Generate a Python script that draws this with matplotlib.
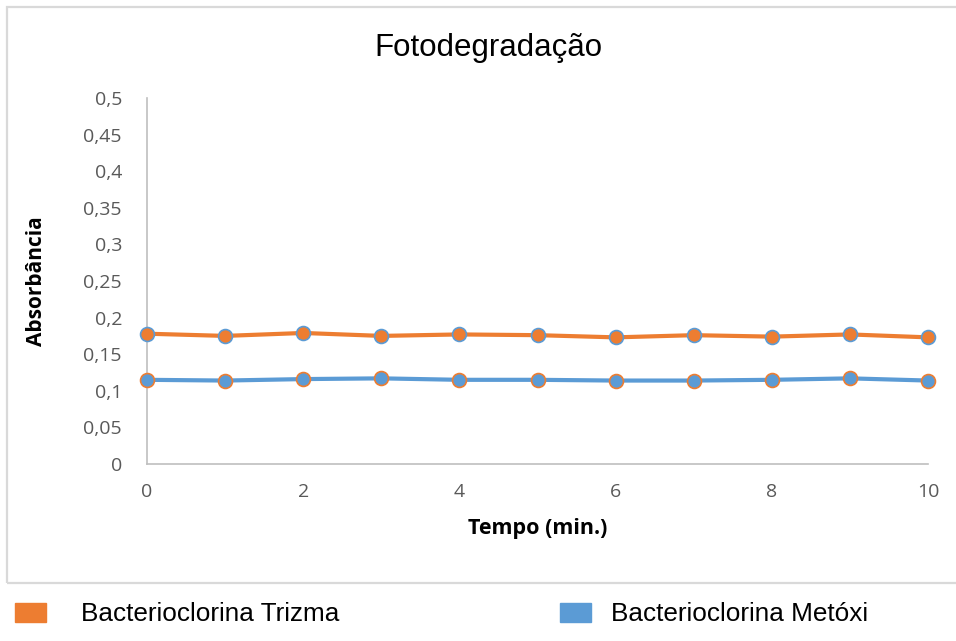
import matplotlib.pyplot as plt
from matplotlib.patches import Rectangle

tempo = [0, 1, 2, 3, 4, 5, 6, 7, 8, 9, 10]
trizma = [0.178, 0.175, 0.179, 0.175, 0.177, 0.176, 0.173, 0.176, 0.174, 0.177, 0.173]
metoxi = [0.115, 0.114, 0.116, 0.117, 0.115, 0.115, 0.114, 0.114, 0.115, 0.117, 0.114]
yticks = [0, 0.05, 0.1, 0.15, 0.2, 0.25, 0.3, 0.35, 0.4, 0.45, 0.5]
xticks = [0, 2, 4, 6, 8, 10]

orange = "#ed7d31"
blue = "#5b9bd5"
grey = "#595959"

fig = plt.figure(figsize=(9.56, 6.41), dpi=100)

# outer chart frame
fig.patches.append(Rectangle((7 / 956, 1 - 583 / 641), 960 / 956, 576 / 641,
                             transform=fig.transFigure, fill=False,
                             edgecolor="#d9d9d9", linewidth=1.6))

ax = fig.add_axes([147 / 956, 1 - 464 / 641, (928 - 147) / 956, (464 - 98) / 641])

ax.plot(tempo, trizma, color=orange, linewidth=3, marker="o", markersize=10,
        markerfacecolor=orange, markeredgecolor=blue, markeredgewidth=1.2,
        zorder=3, clip_on=False)
ax.plot(tempo, metoxi, color=blue, linewidth=3, marker="o", markersize=10,
        markerfacecolor=blue, markeredgecolor=orange, markeredgewidth=1.2,
        zorder=3, clip_on=False)

ax.set_xlim(0, 10)
ax.set_ylim(0, 0.5)
ax.set_xticks(xticks)
ax.set_yticks(yticks)
ax.set_yticklabels([f"{v:g}".replace(".", ",") for v in yticks])
ax.tick_params(length=0, labelsize=14, labelcolor=grey)
ax.tick_params(axis="y", pad=18)
ax.tick_params(axis="x", pad=14)
for lab in ax.get_xticklabels() + ax.get_yticklabels():
    lab.set_family("Open Sans")

for side in ("top", "right"):
    ax.spines[side].set_visible(False)
for side in ("left", "bottom"):
    ax.spines[side].set_color("#bfbfbf")
    ax.spines[side].set_linewidth(1.2)

ax.set_xlabel("Tempo (min.)", fontsize=15.5, fontweight="bold", family="Open Sans", labelpad=12)
ax.set_ylabel("Absorbância", fontsize=15, fontweight="bold", family="Open Sans", labelpad=26)

fig.text(488 / 956, 1 - 48 / 641, "Fotodegradação", ha="center", va="center",
         fontsize=22.5, family="Liberation Sans")

# legend below the frame
fig.patches.append(Rectangle((15 / 956, 1 - 622 / 641), 31 / 956, 19 / 641,
                             transform=fig.transFigure, color=orange))
fig.text(81 / 956, 1 - 614 / 641, "Bacterioclorina Trizma", va="center",
         fontsize=18.8, family="Liberation Sans")
fig.patches.append(Rectangle((560 / 956, 1 - 622 / 641), 31 / 956, 19 / 641,
                             transform=fig.transFigure, color=blue))
fig.text(611 / 956, 1 - 614 / 641, "Bacterioclorina Metóxi", va="center",
         fontsize=18.8, family="Liberation Sans")

fig.savefig("out.png", dpi=100)
